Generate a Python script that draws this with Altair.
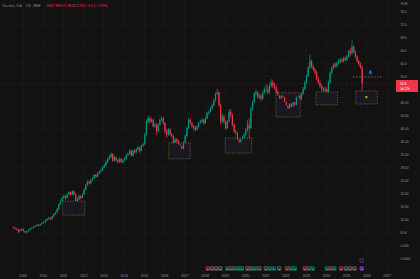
import altair as alt
import pandas as pd

# ---------------- data (monthly candles) ----------------
first_year = 2008
first_month = 7          # July 2008
first_open = 9.4

closes = [
    9.3, 9.0, 8.8, 8.2, 8.6, 8.9,                                   # 2008 Jul-Dec
    8.3, 7.9, 8.1, 8.6, 9.0, 9.2, 9.6, 9.9, 10.2, 10.0, 10.4, 10.8,   # 2009
    11.0, 11.5, 12.0, 12.3, 12.0, 12.8, 13.5, 14.0, 15.0, 16.5, 17.5, 18.5,  # 2010
    19.0, 18.5, 19.5, 20.2, 19.5, 20.5, 19.5, 17.5, 18.0, 19.0, 18.5, 19.5,  # 2011
    21.0, 22.5, 23.5, 23.0, 24.0, 24.5, 25.5, 25.0, 26.0, 26.5, 27.0, 28.0,  # 2012
    28.5, 29.5, 30.5, 31.0, 32.0, 30.0, 31.0, 30.0, 29.5, 30.5, 29.5, 30.0,  # 2013
    30.5, 31.5, 32.0, 33.0, 31.5, 33.0, 32.5, 33.5, 34.0, 33.0, 34.5, 35.0,  # 2014
    38.0, 42.0, 43.0, 42.0, 42.5, 40.5, 41.0, 39.0, 41.0, 42.5, 43.0, 41.5,  # 2015
    39.0, 38.0, 39.5, 38.0, 37.5, 35.5, 36.5, 36.0, 35.0, 34.5, 33.5, 35.5,  # 2016
    37.5, 40.0, 42.5, 41.5, 40.5, 40.0, 39.5, 40.5, 41.5, 42.0, 42.5, 41.5,  # 2017
    43.0, 44.5, 45.0, 46.0, 47.0, 48.5, 50.5, 51.0, 47.0, 42.0, 43.5, 42.0,  # 2018
    40.0, 42.0, 45.0, 44.0, 41.0, 39.0, 38.5, 36.5, 35.5, 36.5, 37.0, 38.0,  # 2019
    39.5, 41.0, 40.0, 46.0, 48.0, 50.5, 51.0, 49.5, 50.0, 49.0, 51.0, 52.0,  # 2020
    52.0, 51.0, 53.0, 54.0, 53.0, 52.5, 51.0, 50.0, 49.0, 50.0, 49.5, 48.0,  # 2021
    47.0, 46.0, 47.5, 46.5, 48.0, 47.0, 49.5, 50.0, 49.0, 50.5, 52.0, 54.0,  # 2022
    56.0, 58.5, 60.5, 59.0, 58.0, 57.0, 55.0, 54.0, 53.0, 52.0, 51.5, 52.0,  # 2023
    51.0, 54.0, 57.0, 58.5, 59.5, 59.0, 60.0, 60.5, 61.0, 60.5, 61.5, 61.0,  # 2024
    62.0, 63.5, 63.0, 65.0, 63.5, 62.0, 60.5, 59.5, 58.7, 53.6,              # 2025 Jan-Oct
]
highs = [
    9.7, 9.5, 9.2, 9.0, 8.9, 9.2,
    9.0, 8.5, 8.4, 8.8, 9.3, 9.5, 9.8, 10.1, 10.5, 10.4, 10.6, 11.0,
    11.3, 11.8, 12.3, 12.7, 12.6, 13.0, 13.8, 14.3, 15.4, 16.8, 18.0, 18.9,
    19.6, 19.3, 19.8, 20.6, 20.4, 20.9, 20.8, 19.8, 18.6, 19.4, 19.3, 19.9,
    21.4, 22.9, 23.9, 23.8, 24.4, 24.9, 25.9, 25.9, 26.4, 26.9, 27.5, 28.4,
    29.0, 30.0, 31.0, 31.6, 32.5, 32.3, 31.5, 31.3, 30.4, 31.0, 30.8, 30.5,
    31.0, 31.9, 32.5, 33.4, 33.3, 33.4, 33.4, 33.9, 34.5, 34.2, 34.9, 35.6,
    38.5, 42.6, 43.6, 43.8, 43.2, 42.9, 41.7, 41.5, 41.5, 43.0, 43.6, 43.4,
    41.8, 39.6, 40.0, 39.9, 38.6, 37.9, 37.0, 36.9, 36.3, 35.4, 34.9, 35.9,
    38.0, 40.5, 43.0, 43.1, 41.9, 40.9, 40.6, 40.9, 41.9, 42.5, 43.0, 42.8,
    43.5, 45.0, 45.5, 46.5, 47.5, 49.0, 51.0, 52.0, 51.3, 47.5, 44.5, 44.0,
    42.4, 42.5, 45.8, 45.9, 44.5, 41.5, 39.6, 38.9, 36.9, 37.0, 37.5, 38.4,
    40.0, 42.5, 43.0, 46.5, 48.6, 51.1, 52.0, 51.3, 50.6, 50.5, 51.5, 52.5,
    53.5, 53.0, 54.0, 55.0, 54.8, 54.0, 53.3, 51.8, 50.8, 50.6, 51.0, 50.2,
    48.6, 47.6, 48.2, 48.0, 48.5, 48.6, 50.0, 50.8, 50.6, 51.0, 52.6, 54.5,
    56.5, 59.0, 62.5, 61.0, 59.6, 58.5, 57.6, 55.8, 54.6, 53.5, 52.5, 52.8,
    52.5, 54.6, 57.5, 59.0, 60.0, 60.2, 60.5, 61.2, 61.6, 61.6, 62.0, 62.0,
    62.5, 64.0, 64.5, 67.0, 65.5, 63.8, 62.5, 61.0, 60.2, 59.2,
]
lows = [
    9.0, 8.8, 8.5, 7.6, 8.0, 8.4,
    8.1, 7.5, 7.6, 8.0, 8.5, 8.8, 9.1, 9.5, 9.8, 9.7, 9.9, 10.3,
    10.6, 10.8, 11.3, 11.8, 11.5, 11.9, 12.7, 13.3, 13.9, 14.9, 16.3, 17.3,
    18.2, 17.8, 18.3, 19.3, 19.1, 19.3, 19.2, 16.8, 17.1, 17.8, 18.1, 18.3,
    19.3, 20.8, 22.2, 22.6, 22.8, 23.7, 24.3, 24.6, 24.8, 25.7, 26.2, 26.8,
    27.6, 28.2, 29.2, 30.2, 30.7, 29.6, 29.7, 29.6, 29.0, 29.3, 29.2, 29.0,
    29.6, 30.2, 31.2, 31.8, 31.2, 31.3, 32.1, 32.2, 33.1, 32.4, 32.8, 34.2,
    34.7, 37.6, 41.5, 41.4, 41.6, 40.1, 40.0, 37.8, 38.6, 40.7, 42.1, 41.0,
    38.2, 37.0, 37.6, 37.6, 37.0, 35.0, 35.1, 35.5, 34.7, 34.0, 32.8, 33.2,
    35.1, 37.1, 39.6, 41.0, 40.0, 39.3, 38.9, 39.2, 40.1, 41.3, 41.6, 41.0,
    41.2, 42.6, 44.0, 44.8, 45.6, 46.6, 48.1, 50.1, 46.5, 41.0, 41.5, 41.2,
    39.4, 39.6, 41.6, 43.2, 40.4, 38.5, 37.8, 35.7, 34.8, 35.1, 36.1, 36.6,
    37.6, 38.9, 36.5, 39.6, 45.4, 47.6, 49.8, 49.0, 48.9, 48.3, 48.6, 50.6,
    50.8, 50.3, 50.4, 52.4, 52.3, 51.8, 50.5, 49.6, 48.5, 48.6, 49.0, 47.4,
    46.0, 44.8, 45.4, 45.8, 46.0, 46.2, 46.6, 49.0, 48.3, 48.5, 50.1, 51.6,
    53.6, 55.6, 58.1, 58.3, 57.5, 56.4, 54.6, 53.5, 52.3, 51.3, 50.6, 51.0,
    50.4, 50.8, 53.6, 56.5, 58.0, 58.5, 58.6, 59.6, 60.1, 60.0, 60.2, 60.5,
    60.5, 61.5, 62.0, 62.5, 63.0, 61.5, 60.0, 59.0, 58.2, 48.35,
]

# annotation boxes (decimal years / prices)
box_x0 = [2010.98, 2016.23, 2019.02, 2021.53, 2023.51, 2025.48]
box_x1 = [2012.08, 2017.29, 2020.33, 2022.73, 2024.57, 2026.54]
box_top = [17.5, 35.4, 36.9, 50.8, 51.1, 51.4]
box_bot = [13.2, 30.5, 32.3, 43.4, 47.1, 47.4]

level_x0, level_x1, level_price = 2025.34, 2026.83, 55.7
arrow_x, arrow_price = 2026.2, 57.2
marker_x, marker_price = 2026.0, 49.5
last_price = 53.6

# event markers along the bottom (decimal year, kind)
ev_x = [2018.16, 2018.37, 2018.57, 2018.78, 2019.12, 2019.30, 2019.47, 2019.67, 2019.84,
        2020.12, 2020.31, 2020.50, 2020.71, 2021.03, 2021.22, 2021.42, 2021.69,
        2022.08, 2022.27, 2022.46, 2022.96, 2023.15, 2023.35, 2024.04, 2024.23, 2024.42,
        2024.76, 2025.00, 2025.21, 2025.42, 2025.77]
ev_kind = ["neg", "neu", "neu", "neu", "pos", "neg", "pos", "pos", "pos",
           "neu", "neu", "pos", "neu", "neu", "pos", "pos", "neu",
           "neg", "pos", "pos", "neg", "pos", "pos", "pos", "neg", "pos",
           "neg", "neu", "neu", "neu", "next"]

year_ticks = list(range(2009, 2028))
price_ticks = [0, 4, 8, 12, 16, 20, 24, 28, 32, 36, 40, 44, 48, 56, 60, 64, 68, 72, 76]

# ---------------- build tables ----------------
opens = [first_open] + closes[:-1]
rows = []
for i, (o, h, l, c) in enumerate(zip(opens, highs, lows, closes)):
    m = first_month - 1 + i
    t = first_year + (m + 0.5) / 12.0
    rows.append({"t": t, "open": o, "close": c,
                 "high": max(h, o, c), "low": min(l, o, c),
                 "up": c >= o})
candles = pd.DataFrame(rows)
boxes = pd.DataFrame({"x0": box_x0, "x1": box_x1, "top": box_top, "bot": box_bot})
events = pd.DataFrame({"t": ev_x, "kind": ev_kind})
events["letter"] = "E"

BG = "#121212"
GRID = "#1c1c1c"
TXT = "#9a9a9a"
UP = "#089981"
DOWN = "#f23645"

xs = alt.Scale(domain=[2008.13, 2027.12], nice=False, zero=False)
ys = alt.Scale(domain=[-4.0, 79.38], nice=False, zero=False)

AX_X = alt.Axis(
    values=year_ticks, format="d", title=None, labelFontSize=3.4, labelColor=TXT,
    labelFont="Liberation Sans", ticks=False, domain=False, grid=True, gridColor=GRID,
    gridWidth=0.5, labelPadding=2, labelFlush=False)
AX_Y = alt.Axis(
    values=price_ticks, orient="right", title=None, labelFontSize=3.2, labelColor=TXT,
    labelFont="Liberation Sans", ticks=False, domain=False, grid=True, gridColor=GRID,
    gridWidth=0.5, labelPadding=6, labelAlign="left", labelFlush=False,
    labelExpr="datum.value >= 56 ? format(datum.value, '.1f') : datum.value >= 8 ? format(datum.value, '.2f') : datum.value >= 4 ? format(datum.value, '.3f') : format(datum.value, '.4f')")


def X(field):
    return alt.X(field, scale=xs, axis=AX_X, title=None)


def Y(field):
    return alt.Y(field, scale=ys, axis=AX_Y, title=None)


color_cond = alt.condition("datum.up", alt.value(UP), alt.value(DOWN))

wicks = alt.Chart(candles).mark_rule(strokeWidth=0.7).encode(
    x=X("t:Q"), y=Y("low:Q"), y2="high:Q", color=color_cond)
bodies = alt.Chart(candles).mark_bar(size=1.2).encode(
    x=X("t:Q"), y=Y("open:Q"), y2="close:Q", color=color_cond)

box_layer = alt.Chart(boxes).mark_rect(
    fill="#1a1720", stroke="#8c7a2c", strokeDash=[1.2, 1.2], strokeWidth=0.7
).encode(x=X("x0:Q"), x2="x1:Q", y=Y("top:Q"), y2="bot:Q")

price_line = alt.Chart(pd.DataFrame({"p": [last_price]})).mark_rule(
    color="#5c1d23", strokeWidth=0.6, strokeDash=[1, 1]
).encode(y=Y("p:Q"))

level_line = alt.Chart(pd.DataFrame({"x0": [level_x0], "x1": [level_x1], "p": [level_price]})).mark_rule(
    color="#8c7a2c", strokeWidth=0.8, strokeDash=[1.5, 1.5]
).encode(x=X("x0:Q"), x2="x1:Q", y=Y("p:Q"))

arrow_df = pd.DataFrame({"t": [arrow_x], "p": [arrow_price]})
arrow_head = alt.Chart(arrow_df).mark_point(
    shape="triangle-up", filled=True, color="#2962ff", size=14, opacity=1, yOffset=-1
).encode(x=X("t:Q"), y=Y("p:Q"))
arrow_stem = alt.Chart(arrow_df).mark_point(
    shape="square", filled=True, color="#2962ff", size=4, opacity=1, yOffset=1.5
).encode(x=X("t:Q"), y=Y("p:Q"))

small_sq = alt.Chart(pd.DataFrame({"t": [marker_x], "p": [marker_price]})).mark_point(
    shape="square", filled=True, color="#b59a2a", size=5, opacity=1
).encode(x=X("t:Q"), y=Y("p:Q"))

ev_fill = alt.Scale(domain=["pos", "neg", "neu", "next"],
                    range=["#0b4a40", "#6b1f25", "#2e2e2e", "#5b1e8a"])
ev_stroke = alt.Scale(domain=["pos", "neg", "neu", "next"],
                      range=[UP, DOWN, "#8a8a8a", "#a64dff"])
ev_rects = alt.Chart(events).mark_point(
    shape="square", filled=False, size=12, strokeWidth=0.5, opacity=1
).encode(
    x=X("t:Q"),
    y=alt.value(268.5),
    fill=alt.Fill("kind:N", scale=ev_fill, legend=None),
    stroke=alt.Stroke("kind:N", scale=ev_stroke, legend=None),
)
ev_text = alt.Chart(events).mark_text(fontSize=2.4, color="#d0d0d0", font="Liberation Sans").encode(
    x=X("t:Q"), y=alt.value(268.8), text="letter:N")

next_circle = alt.Chart(events[events["kind"] == "next"]).mark_point(
    shape="circle", filled=False, color="#a64dff", size=14, strokeWidth=0.5, opacity=1
).encode(x=X("t:Q"), y=alt.value(260.5))

title_a = alt.Chart(pd.DataFrame({"s": ["Viscofan, S.A. · 1W · BME"]})).mark_text(
    align="left", baseline="middle", fontSize=3.3, color="#8a8a8a", font="Liberation Sans"
).encode(x=alt.value(2), y=alt.value(6), text="s:N")
title_b = alt.Chart(pd.DataFrame({"s": ["O58.7 H59.2 L48.35 C53.6 −4.5 (−7.75%)"]})).mark_text(
    align="left", baseline="middle", fontSize=3.3, color=DOWN, font="Liberation Sans"
).encode(x=alt.value(46), y=alt.value(6), text="s:N")

tag_rect = alt.Chart(pd.DataFrame({"a": [1]})).mark_rect(color=DOWN).encode(
    x=alt.value(396), x2=alt.value(418), y=alt.value(80), y2=alt.value(92))
tag_a = alt.Chart(pd.DataFrame({"s": ["53.6"]})).mark_text(
    align="left", baseline="middle", fontSize=3.2, color="#ffffff", font="Liberation Sans"
).encode(x=alt.value(400), y=alt.value(83.5), text="s:N")
tag_b = alt.Chart(pd.DataFrame({"s": ["1d 22h"]})).mark_text(
    align="left", baseline="middle", fontSize=3.2, color="#ffffff", font="Liberation Sans"
).encode(x=alt.value(400), y=alt.value(88.5), text="s:N")

cur_label = alt.Chart(pd.DataFrame({"s": ["EUR"]})).mark_text(
    align="left", baseline="middle", fontSize=3.0, color="#8a8a8a", font="Liberation Sans"
).encode(x=alt.value(401), y=alt.value(3.5), text="s:N")

chart = alt.layer(
    wicks, box_layer, price_line, bodies, level_line, arrow_stem, arrow_head, small_sq,
    ev_rects, ev_text, next_circle, title_a, title_b, tag_rect, tag_a, tag_b, cur_label,
).properties(
    width=394, height=271,
    background=BG,
    padding={"left": 0, "top": 0, "right": 26, "bottom": 8},
    autosize=alt.AutoSizeParams(type="none"),
).configure_view(stroke=None, fill=BG)

chart.save("out.html", embed_options={"renderer": "svg", "actions": False})
